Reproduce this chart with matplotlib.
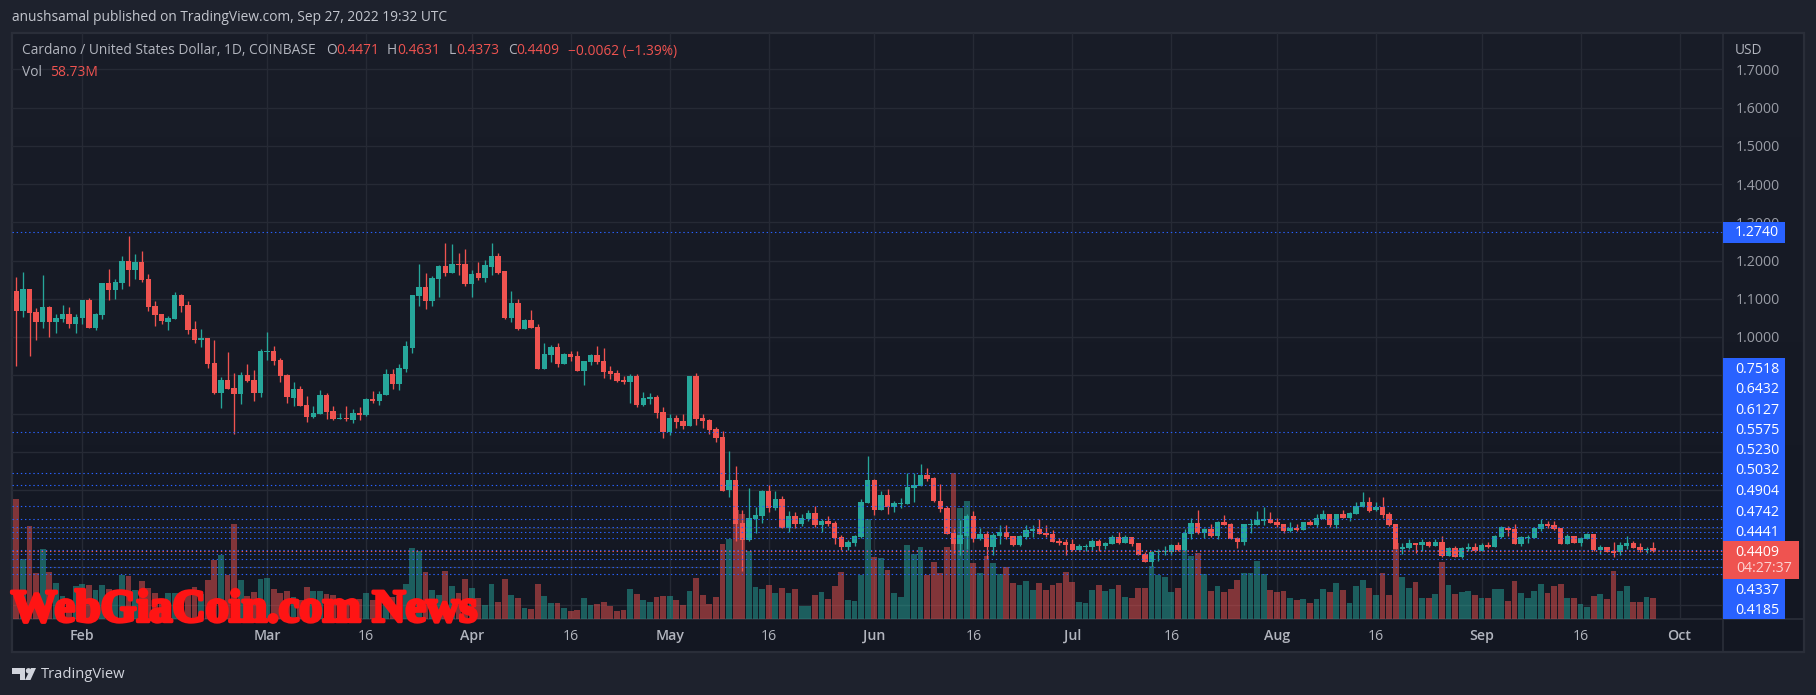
import matplotlib
matplotlib.use("Agg")
import matplotlib.pyplot as plt
import matplotlib.dates as mdates
import matplotlib.patheffects as pe
import numpy as np
import pandas as pd
from matplotlib.patches import Rectangle, Polygon, Circle

W, H = 1816, 695
FONT = "Open Sans"
plt.rcParams["font.family"] = [FONT, "DejaVu Sans"]

first_date = "2022-01-21"

opens = [1.259,
1.120,1.068,1.126,1.065,1.039,1.079,1.039,1.047,1.060,1.034,
1.050,1.097,1.024,1.058,1.141,1.123,1.141,1.199,1.175,1.196,
1.152,1.081,1.060,1.039,1.047,1.110,1.084,1.021,0.992,0.998,
0.932,0.854,0.888,0.867,0.851,0.901,0.888,0.854,0.961,0.964,
0.940,0.901,0.841,0.864,0.822,0.791,0.799,0.849,0.807,0.786,
0.789,0.783,0.802,0.796,0.838,0.833,0.849,0.903,0.877,0.917,
0.971,1.107,1.131,1.094,1.152,1.186,1.167,1.191,1.191,1.139,
1.167,1.154,1.183,1.212,1.173,1.050,1.089,1.021,1.045,1.026,
0.917,0.953,0.974,0.930,0.956,0.950,0.911,0.935,0.953,0.937,
0.911,0.906,0.888,0.883,0.898,0.822,0.838,0.843,0.804,0.752,
0.789,0.781,0.768,0.898,0.789,0.783,0.760,0.739,0.600,0.627,
0.514,0.470,0.525,0.532,0.598,0.553,0.577,0.501,0.532,0.512,
0.525,0.540,0.509,0.519,0.514,0.478,0.451,0.462,0.478,0.566,
0.627,0.548,0.587,0.556,0.563,0.563,0.605,0.610,0.639,0.631,
0.571,0.553,0.488,0.459,0.480,0.532,0.472,0.485,0.451,0.480,
0.490,0.480,0.456,0.477,0.493,0.498,0.488,0.485,0.467,0.464,
0.459,0.443,0.451,0.451,0.467,0.454,0.459,0.477,0.462,0.477,
0.462,0.433,0.412,0.438,0.438,0.438,0.456,0.443,0.485,0.514,
0.488,0.498,0.480,0.516,0.511,0.475,0.464,0.509,0.509,0.519,
0.524,0.516,0.511,0.493,0.501,0.496,0.516,0.509,0.524,0.537,
0.509,0.537,0.527,0.537,0.556,0.569,0.548,0.556,0.537,0.511,
0.446,0.448,0.462,0.456,0.464,0.454,0.464,0.428,0.448,0.425,
0.446,0.451,0.441,0.456,0.451,0.477,0.501,0.498,0.459,0.475,
0.475,0.498,0.511,0.509,0.501,0.459,0.480,0.462,0.472,0.485,
0.443,0.451,0.441,0.438,0.454,0.462,0.451,0.443,0.4471]

closes = [1.118,
1.068,1.126,1.063,1.039,1.079,1.039,1.050,1.060,1.034,1.052,
1.097,1.024,1.060,1.141,1.123,1.144,1.199,1.175,1.196,1.149,
1.079,1.058,1.042,1.050,1.110,1.081,1.018,0.992,0.998,0.930,
0.854,0.888,0.864,0.851,0.901,0.885,0.854,0.964,0.964,0.937,
0.898,0.843,0.864,0.820,0.791,0.802,0.849,0.804,0.786,0.789,
0.786,0.802,0.796,0.838,0.833,0.851,0.903,0.877,0.919,0.977,
1.110,1.131,1.094,1.154,1.186,1.167,1.191,1.188,1.139,1.165,
1.154,1.188,1.212,1.167,1.050,1.089,1.021,1.045,1.024,0.917,
0.956,0.974,0.930,0.956,0.948,0.911,0.937,0.953,0.935,0.909,
0.903,0.885,0.883,0.898,0.822,0.841,0.843,0.802,0.752,0.789,
0.778,0.768,0.898,0.786,0.781,0.757,0.736,0.598,0.627,0.512,
0.470,0.527,0.535,0.598,0.553,0.577,0.501,0.532,0.512,0.527,
0.540,0.509,0.519,0.512,0.475,0.451,0.465,0.480,0.569,0.627,
0.548,0.587,0.556,0.566,0.566,0.608,0.613,0.639,0.629,0.571,
0.550,0.485,0.459,0.482,0.532,0.472,0.485,0.451,0.482,0.490,
0.477,0.456,0.480,0.496,0.498,0.485,0.482,0.464,0.462,0.456,
0.443,0.454,0.454,0.467,0.454,0.462,0.477,0.462,0.477,0.459,
0.430,0.412,0.438,0.441,0.441,0.456,0.443,0.488,0.514,0.488,
0.498,0.480,0.516,0.509,0.472,0.464,0.511,0.511,0.522,0.524,
0.514,0.509,0.493,0.501,0.496,0.516,0.509,0.527,0.537,0.509,
0.537,0.527,0.540,0.558,0.569,0.545,0.556,0.535,0.509,0.446,
0.451,0.462,0.456,0.464,0.454,0.464,0.428,0.448,0.425,0.448,
0.451,0.441,0.456,0.451,0.480,0.503,0.496,0.459,0.477,0.477,
0.501,0.511,0.506,0.498,0.459,0.480,0.462,0.475,0.485,0.443,
0.451,0.438,0.435,0.456,0.462,0.448,0.443,0.446,0.4409]

highs = [1.259,
1.157,1.170,1.126,1.076,1.162,1.081,1.060,1.084,1.079,1.060,
1.097,1.102,1.063,1.141,1.178,1.152,1.212,1.264,1.217,1.225,
1.165,1.094,1.060,1.055,1.118,1.113,1.094,1.042,1.021,0.998,
0.992,0.896,0.961,0.906,0.909,0.930,0.914,0.969,1.013,0.977,
0.945,0.903,0.883,0.872,0.846,0.820,0.862,0.854,0.820,0.802,
0.820,0.812,0.817,0.841,0.859,0.859,0.917,0.917,0.930,0.990,
1.110,1.191,1.167,1.160,1.188,1.246,1.243,1.220,1.230,1.175,
1.196,1.201,1.246,1.220,1.173,1.120,1.100,1.047,1.071,1.034,
0.985,0.979,0.985,0.958,0.964,0.964,0.937,0.956,0.977,0.971,
0.924,0.914,0.898,0.903,0.903,0.856,0.854,0.849,0.817,0.799,
0.796,0.799,0.898,0.906,0.799,0.786,0.765,0.755,0.702,0.663,
0.548,0.606,0.556,0.600,0.613,0.598,0.585,0.546,0.543,0.538,
0.548,0.559,0.525,0.532,0.519,0.483,0.470,0.483,0.577,0.689,
0.629,0.597,0.603,0.571,0.579,0.644,0.644,0.668,0.658,0.634,
0.616,0.558,0.498,0.522,0.537,0.545,0.501,0.493,0.488,0.509,
0.509,0.480,0.482,0.509,0.509,0.524,0.509,0.496,0.475,0.472,
0.472,0.459,0.459,0.472,0.472,0.464,0.482,0.490,0.482,0.477,
0.462,0.438,0.441,0.446,0.454,0.459,0.464,0.498,0.527,0.548,
0.501,0.511,0.519,0.535,0.514,0.477,0.511,0.524,0.545,0.556,
0.543,0.527,0.511,0.516,0.511,0.516,0.522,0.537,0.548,0.537,
0.537,0.548,0.543,0.569,0.595,0.582,0.569,0.582,0.543,0.511,
0.462,0.472,0.462,0.472,0.467,0.472,0.480,0.451,0.454,0.451,
0.462,0.462,0.462,0.464,0.482,0.506,0.506,0.511,0.480,0.482,
0.503,0.524,0.519,0.519,0.501,0.485,0.480,0.477,0.488,0.485,
0.456,0.451,0.464,0.464,0.480,0.467,0.462,0.451,0.4631]

lows = [1.118,
0.925,1.052,0.950,0.992,1.024,1.000,1.011,1.039,1.024,1.011,
1.034,1.024,1.018,1.047,1.097,1.100,1.126,1.133,1.152,1.144,
1.068,1.029,1.034,1.018,1.047,1.065,1.008,0.985,0.974,0.919,
0.851,0.815,0.864,0.747,0.825,0.883,0.833,0.843,0.940,0.927,
0.883,0.828,0.820,0.820,0.778,0.789,0.799,0.786,0.783,0.786,
0.781,0.775,0.783,0.794,0.828,0.822,0.849,0.864,0.862,0.909,
0.958,1.081,1.073,1.081,1.105,1.160,1.167,1.162,1.133,1.105,
1.149,1.144,1.162,1.165,1.047,1.039,1.018,1.021,1.024,0.917,
0.917,0.935,0.922,0.930,0.937,0.911,0.875,0.927,0.930,0.893,
0.890,0.883,0.877,0.828,0.817,0.820,0.825,0.789,0.736,0.744,
0.762,0.760,0.768,0.770,0.762,0.747,0.726,0.598,0.582,0.467,
0.389,0.467,0.488,0.514,0.543,0.548,0.501,0.491,0.501,0.506,
0.519,0.504,0.491,0.506,0.459,0.444,0.444,0.454,0.475,0.566,
0.535,0.548,0.537,0.543,0.553,0.563,0.569,0.610,0.624,0.569,
0.543,0.485,0.435,0.430,0.446,0.464,0.469,0.420,0.430,0.459,
0.472,0.454,0.454,0.472,0.477,0.485,0.477,0.464,0.456,0.430,
0.441,0.441,0.441,0.441,0.441,0.446,0.459,0.459,0.462,0.454,
0.430,0.412,0.401,0.415,0.430,0.430,0.441,0.441,0.472,0.485,
0.475,0.477,0.472,0.509,0.472,0.448,0.456,0.488,0.509,0.509,
0.514,0.503,0.488,0.490,0.493,0.496,0.509,0.503,0.524,0.503,
0.501,0.527,0.519,0.537,0.556,0.543,0.545,0.527,0.506,0.446,
0.433,0.446,0.435,0.441,0.451,0.454,0.425,0.428,0.425,0.422,
0.441,0.438,0.441,0.448,0.451,0.475,0.480,0.459,0.454,0.462,
0.475,0.493,0.501,0.496,0.459,0.459,0.462,0.454,0.472,0.441,
0.433,0.438,0.425,0.430,0.446,0.448,0.438,0.435,0.4373]

volumes = [0,
336,168,260,129,196,131,101,64,53,92,
98,95,81,95,84,73,123,120,81,106,
87,73,53,73,73,70,70,89,70,109,
165,179,123,266,109,64,75,112,115,84,
73,78,62,53,89,78,78,70,67,53,
44,53,56,73,53,53,62,62,64,98,
199,190,131,81,67,134,92,73,112,87,
59,39,98,48,112,67,59,31,28,98,
64,45,45,31,22,25,59,39,42,48,
36,22,25,84,70,53,48,62,64,64,
53,39,78,115,67,42,62,210,224,305,
294,190,89,84,95,73,87,73,84,36,
36,67,75,56,92,131,53,50,123,280,
173,171,137,73,62,207,182,201,123,159,
129,201,408,310,330,157,129,176,157,126,
145,101,95,106,81,101,81,95,101,131,
103,48,45,81,95,78,84,95,62,59,
87,87,148,123,117,75,87,193,176,185,
126,78,92,75,84,109,129,129,162,126,
81,75,78,59,53,56,45,56,84,75,
101,81,45,92,109,87,67,129,67,212,
117,87,103,59,59,70,159,95,70,75,
78,67,59,59,84,84,50,106,73,59,
78,98,73,92,98,59,59,42,34,64,
70,56,134,78,92,48,48,62,58.73]

price_ticks = [0.3, 0.4, 0.5, 0.6, 0.7, 0.8, 0.9, 1.0, 1.1, 1.2, 1.3, 1.4, 1.5, 1.6, 1.7]
level_values = [1.2740, 0.7518, 0.6432, 0.6127, 0.5575, 0.5230, 0.5032, 0.4904,
                0.4742, 0.4441, 0.4337, 0.4185, 0.4000, 0.3796]
current_price = 0.4409
tag_labels = ["0.7518", "0.6432", "0.6127", "0.5575", "0.5230", "0.5032", "0.4904",
              "0.4742", "0.4441", "0.4337", "0.4185"]
date_ticks = ["2022-02-01", "2022-03-01", "2022-03-16", "2022-04-01", "2022-04-16", "2022-05-01",
              "2022-05-16", "2022-06-01", "2022-06-16", "2022-07-01", "2022-07-16", "2022-08-01",
              "2022-08-16", "2022-09-01", "2022-09-16", "2022-10-01"]
date_labels = ["Feb", "Mar", "16", "Apr", "16", "May", "16", "Jun", "16", "Jul", "16", "Aug",
               "16", "Sep", "16", "Oct"]

assert len(opens) == len(closes) == len(highs) == len(lows) == len(volumes), (
    len(opens), len(closes), len(highs), len(lows), len(volumes))

UP, DOWN = "#26a69a", "#ef5350"
BLUE = "#2962ff"
PAGE = "#1e222d"
GRID = "#262a35"
BORDER = "#2a2e39"
TEXT = "#b2b5be"


def rect(x0, y0, x1, y1):
    return [x0 / W, 1 - y1 / H, (x1 - x0) / W, (y1 - y0) / H]


fig = plt.figure(figsize=(W / 100, H / 100), dpi=100, facecolor=PAGE)

# panel background with its faint vertical gradient
bg = fig.add_axes(rect(12, 33, 1804, 652))
bg.imshow(np.linspace(0, 1, 256)[:, None],
          cmap=matplotlib.colors.LinearSegmentedColormap.from_list("bg", ["#191d28", "#131722"]),
          aspect="auto", extent=(0, 1, 0, 1))
bg.axis("off")

# frame lies under the chart marks
fr = fig.add_axes([0, 0, 1, 1], facecolor="none")
fr.set_xlim(0, W)
fr.set_ylim(H, 0)
fr.axis("off")
fr.add_patch(Rectangle((12, 33), 1792, 619, fill=False, ec=BORDER, lw=1.6))
fr.plot([12, 1804], [619, 619], color=BORDER, lw=1.2)
fr.plot([1723, 1723], [33, 652], color=BORDER, lw=1.2)

ax = fig.add_axes(rect(12, 33, 1723, 619), facecolor="none")
dates = mdates.date2num(pd.date_range(first_date, periods=len(opens), freq="D"))
feb1 = mdates.date2num(pd.Timestamp("2022-02-01"))
ax.set_xlim(feb1 + (12 - 82.3) / 6.6, feb1 + (1723 - 82.3) / 6.6)
ax.set_ylim(1 - (619 - 337) / 382.5, 1 + (337 - 33) / 382.5)

# candles
colors = [UP if c >= o else DOWN for o, c in zip(opens, closes)]
ax.vlines(dates, lows, highs, colors=colors, linewidth=0.95, zorder=3)
ax.bar(dates, np.abs(np.array(closes) - np.array(opens)), bottom=np.minimum(opens, closes),
       width=0.8, color=colors, linewidth=0, zorder=4)

# volume overlay
ax_v = ax.twinx()
ax_v.set_ylim(0, (619 - 33) * 2.797)
ax_v.patch.set_visible(False)
ax_v.set_yticks([])
for s in ax_v.spines.values():
    s.set_visible(False)
ax_v.bar(dates, volumes, width=0.9, color=colors, alpha=0.5, linewidth=0, zorder=2)

# axis furniture of the price axes (after twinx, which moves its ticks to the left)
tick_nums = mdates.date2num(pd.to_datetime(date_ticks))
ax.set_xticks(tick_nums)
ax.set_xticklabels(date_labels, fontsize=10.2, color=TEXT)
for lab, txt in zip(ax.get_xticklabels(), date_labels):
    if not txt.isdigit():
        lab.set_fontweight("semibold")
ax.set_yticks(price_ticks)
ax.set_yticklabels([f"{v:.4f}" if v >= 1.0 else "" for v in price_ticks], fontsize=10.2, color="#9a9da6")
ax.yaxis.tick_right()
ax.tick_params(axis="both", length=0)
ax.tick_params(axis="x", pad=7)
ax.tick_params(axis="y", pad=9)
ax.grid(True, color=GRID, linewidth=1.0)
ax.set_axisbelow(True)
for s in ax.spines.values():
    s.set_visible(False)

# dotted level lines (drawn above volume, in price units)
ytrans = ax.get_yaxis_transform()
for lvl in level_values:
    ax_v.plot([0, 1], [lvl, lvl], transform=ytrans, color=BLUE, linewidth=0.8,
              linestyle=(0, (1.25, 2.5)), zorder=5)
ax_v.plot([0, 1], [current_price, current_price], transform=ytrans, color=DOWN, linewidth=0.8,
          linestyle=(0, (1.25, 2.5)), zorder=5)

# overlay in pixel coordinates for page furniture
ov = fig.add_axes([0, 0, 1, 1], facecolor="none")
ov.set_xlim(0, W)
ov.set_ylim(H, 0)
ov.axis("off")

# price tags
TAG_FS = 10.2
ov.add_patch(Rectangle((1723, 222), 62, 21, fc=BLUE, ec="none"))
ov.text(1779, 232.5, "1.2740", color="white", fontsize=TAG_FS, ha="right", va="center")
ov.add_patch(Rectangle((1723, 358), 62, 261, fc=BLUE, ec="none"))
tag_y = [369.3, 389.3, 410, 430, 450, 470.7, 491.3, 512, 532, 590, 610]
for yy, s in zip(tag_y, tag_labels):
    ov.text(1779, yy, s, color="white", fontsize=TAG_FS, ha="right", va="center")
ov.add_patch(Rectangle((1723, 541), 76, 38, fc=DOWN, ec="none"))
ov.text(1779, 552, f"{current_price:.4f}", color="white", fontsize=TAG_FS, ha="right", va="center")
ov.text(1792, 569, "04:27:37", color="#fbd4d3", fontsize=TAG_FS, ha="right", va="center")
ov.text(1735, 50, "USD", color=TEXT, fontsize=9.8, ha="left", va="center")

# header and legend
LEG_FS = 9.9
ov.text(12, 17.5, "anushsamal published on TradingView.com, Sep 27, 2022 19:32 UTC",
        color="#c3c6ce", fontsize=LEG_FS, ha="left", va="center")
ov.text(22, 51, "Cardano / United States Dollar, 1D, COINBASE", color=TEXT, fontsize=LEG_FS,
        ha="left", va="center")
for xx, s, col in [(326, "O", TEXT), (336, "0.4471", DOWN), (387, "H", TEXT), (397, "0.4631", DOWN),
                   (449, "L", TEXT), (456, "0.4373", DOWN), (508, "C", TEXT), (516, "0.4409", DOWN),
                   (568, "\u22120.0062 (\u22121.39%)", DOWN)]:
    ov.text(xx, 51, s, color=col, fontsize=LEG_FS, ha="left", va="center")
ov.text(22, 72, "Vol", color=TEXT, fontsize=LEG_FS, ha="left", va="center")
ov.text(50, 72, "58.73M", color=DOWN, fontsize=LEG_FS, ha="left", va="center")

# watermark
wm = ov.text(11, 610.5, "WebGiaCoin.com News", color="#ff1414", fontsize=33.2, fontweight="bold",
             family="Liberation Serif", ha="left", va="center")
wm.set_path_effects([pe.withStroke(linewidth=2.5, foreground="#ff1414")])

# TradingView logo
LOGO = "#d1d4dc"
ov.add_patch(Polygon([(12, 668), (25, 668), (25, 680), (19.5, 680), (19.5, 673.5), (12, 673.5)],
                     fc=LOGO, ec="none"))
ov.add_patch(Circle((28.5, 670.8), 2.7, fc=LOGO, ec="none"))
ov.add_patch(Polygon([(31, 668), (36, 668), (30.5, 680), (25, 680)], fc=LOGO, ec="none"))
ov.text(41, 674.5, "TradingView", color=LOGO, fontsize=10.6, ha="left", va="center")

fig.savefig("out.png", dpi=100, facecolor=PAGE)
